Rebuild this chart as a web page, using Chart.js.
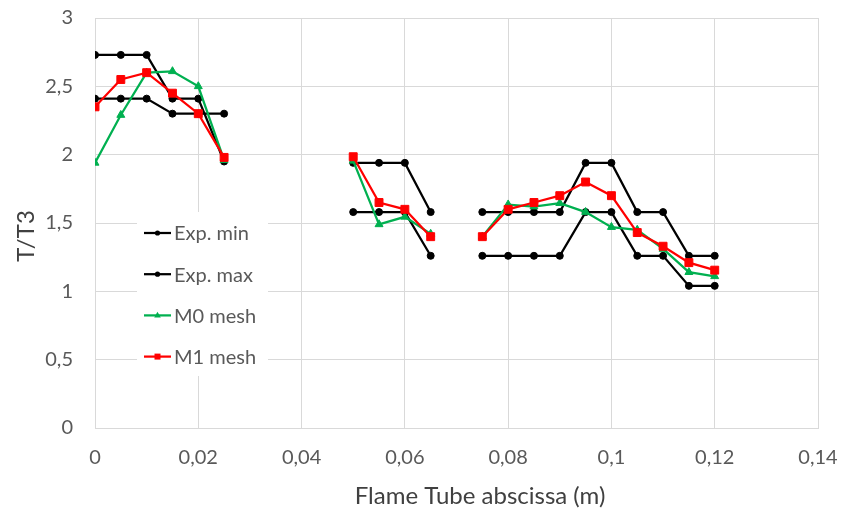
<!DOCTYPE html>
<html>
<head>
<meta charset="utf-8">
<script src="https://cdn.jsdelivr.net/npm/chart.js@4.4.0/dist/chart.umd.min.js"></script>
<style>
  html, body { margin: 0; padding: 0; background: #fff; }
  #wrap { width: 845px; height: 512px; }
</style>
</head>
<body>
<div id="wrap"><canvas id="tube"></canvas></div>
<script>
// flame tube positions (m), gaps where nothing was measured
const xPos = [0, 0.005, 0.01, 0.015, 0.02, 0.025, 0.03, 0.035, 0.04, 0.045,
  0.05, 0.055, 0.06, 0.065, 0.07, 0.075, 0.08, 0.085, 0.09, 0.095,
  0.1, 0.105, 0.11, 0.115, 0.12];

const expMin = [2.41, 2.41, 2.41, 2.30, 2.30, 2.30, null, null, null, null,
  1.58, 1.58, 1.58, 1.26, null, 1.26, 1.26, 1.26, 1.26, 1.58,
  1.58, 1.26, 1.26, 1.04, 1.04];

const expMax = [2.73, 2.73, 2.73, 2.41, 2.41, 1.95, null, null, null, null,
  1.94, 1.94, 1.94, 1.58, null, 1.58, 1.58, 1.58, 1.58, 1.94,
  1.94, 1.58, 1.58, 1.26, 1.26];

const m0Mesh = [1.94, 2.29, 2.60, 2.61, 2.50, 1.96, null, null, null, null,
  1.955, 1.49, 1.545, 1.42, null, 1.40, 1.635, 1.62, 1.645, 1.58,
  1.47, 1.45, 1.31, 1.14, 1.11];

const m1Mesh = [2.35, 2.55, 2.60, 2.45, 2.30, 1.98, null, null, null, null,
  1.985, 1.65, 1.60, 1.40, null, 1.40, 1.60, 1.65, 1.70, 1.80,
  1.70, 1.43, 1.33, 1.21, 1.155];

const seriesNames = ['Exp. min', 'Exp. max', 'M0 mesh', 'M1 mesh'];

const FONT = 'Lato, "Open Sans", sans-serif';
const gray = '#595959';
const gridGray = '#d9d9d9';

function pts(vals) {
  return xPos.map((x, i) => ({ x: x, y: vals[i] }));
}

function comma(v) {
  return parseFloat(v.toFixed(3)).toString().replace('.', ',');
}

function marker(ctx, style, x, y, r) {
  ctx.beginPath();
  if (style === 'rect') {
    ctx.rect(x - r, y - r, 2 * r, 2 * r);
  } else if (style === 'triangle') {
    ctx.moveTo(x, y - r * 1.2);
    ctx.lineTo(x + r * 1.1, y + r * 0.7);
    ctx.lineTo(x - r * 1.1, y + r * 0.7);
    ctx.closePath();
  } else {
    ctx.arc(x, y, r, 0, Math.PI * 2);
  }
  ctx.fill();
}

// legend sits inside the plot, Excel style, on a white box
const boxLegend = {
  id: 'boxLegend',
  afterDraw(chart) {
    const ctx = chart.ctx;
    ctx.save();
    ctx.fillStyle = '#fff';
    ctx.fillRect(137, 212, 131, 164);
    ctx.font = '20px ' + FONT;
    ctx.textBaseline = 'middle';
    chart.data.datasets.forEach((ds, i) => {
      const y = 233 + i * 41.2;
      ctx.strokeStyle = ds.borderColor;
      ctx.lineWidth = 2.25;
      ctx.beginPath();
      ctx.moveTo(144, y);
      ctx.lineTo(171, y);
      ctx.stroke();
      ctx.fillStyle = ds.backgroundColor;
      marker(ctx, ds.pointStyle, 157.5, y, ds.pointStyle === 'circle' ? 2.6 : 3);
      ctx.fillStyle = gray;
      ctx.fillText(ds.label, 174, y + 1);
    });
    ctx.restore();
  }
};

const axisTitles = {
  id: 'axisTitles',
  afterDraw(chart) {
    const ctx = chart.ctx;
    ctx.save();
    ctx.fillStyle = '#404040';
    ctx.font = '24px ' + FONT;
    ctx.textAlign = 'center';
    ctx.textBaseline = 'middle';
    ctx.fillText('Flame Tube abscissa (m)', 480, 496);
    ctx.translate(26, 236);
    ctx.rotate(-Math.PI / 2);
    ctx.fillText('T/T3', 0, 0);
    ctx.restore();
  }
};

function ds(label, vals, color, style, radius, order) {
  return {
    label: label,
    data: pts(vals),
    borderColor: color,
    backgroundColor: color,
    borderWidth: 2.25,
    pointStyle: style,
    pointRadius: radius,
    pointHoverRadius: radius,
    pointBorderWidth: 1,
    tension: 0,
    spanGaps: false,
    order: order
  };
}

new Chart(document.getElementById('tube'), {
  type: 'line',
  data: {
    datasets: [
      ds(seriesNames[0], expMin, '#000000', 'circle', 3.5, 4),
      ds(seriesNames[1], expMax, '#000000', 'circle', 3.5, 3),
      ds(seriesNames[2], m0Mesh, '#00b050', 'triangle', 4.6, 2),
      ds(seriesNames[3], m1Mesh, '#ff0000', 'rect', 5.6, 1)
    ]
  },
  options: {
    responsive: true,
    maintainAspectRatio: false,
    animation: false,
    devicePixelRatio: 1,
    layout: { padding: { left: 0, right: 27, top: 18, bottom: 0 } },
    plugins: {
      legend: { display: false },
      tooltip: { enabled: false }
    },
    scales: {
      x: {
        type: 'linear',
        min: 0,
        max: 0.14,
        ticks: {
          stepSize: 0.02,
          callback: (v) => comma(v),
          color: gray,
          font: { family: FONT, size: 20 },
          padding: 18,
          maxRotation: 0
        },
        grid: { color: gridGray, drawTicks: false },
        border: { color: gridGray },
        afterFit(scale) {
          scale.height = 84;
          scale.paddingLeft = 0;
          scale.paddingRight = 0;
        }
      },
      y: {
        min: 0,
        max: 3,
        ticks: {
          stepSize: 0.5,
          callback: (v) => comma(v),
          color: gray,
          font: { family: FONT, size: 20 },
          padding: 22
        },
        grid: { color: gridGray, drawTicks: false },
        border: { color: gridGray },
        afterFit(scale) {
          scale.width = 95;
          scale.paddingTop = 0;
          scale.paddingBottom = 0;
        }
      }
    }
  },
  plugins: [boxLegend, axisTitles]
});
</script>
</body>
</html>
